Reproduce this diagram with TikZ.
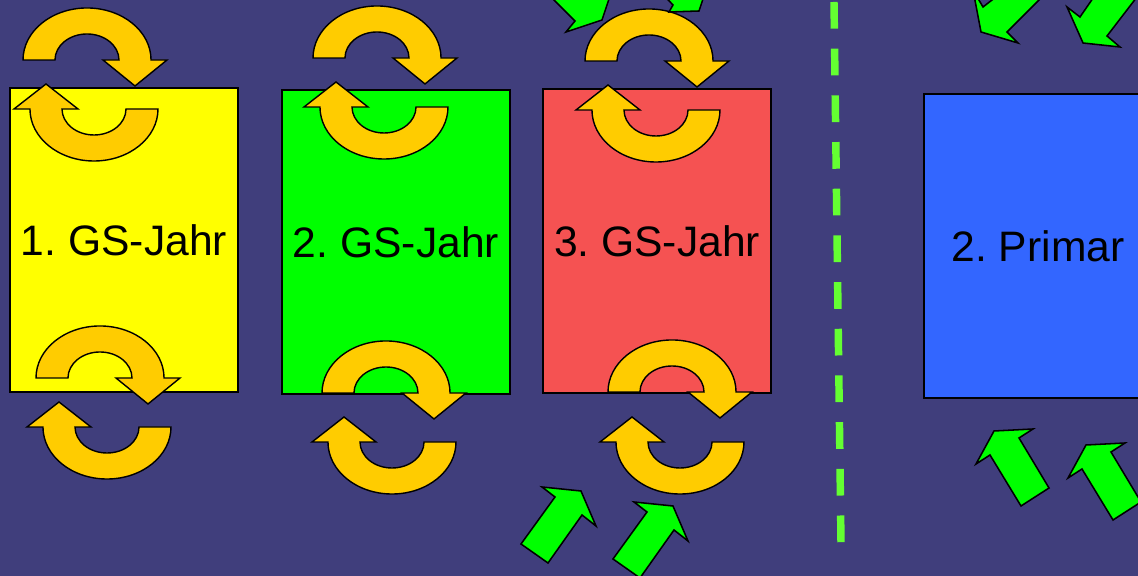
\documentclass[tikz,border=0pt]{standalone}
\usepackage{fontspec}
\setmainfont{Liberation Sans}
\definecolor{bgc}{RGB}{64,62,124}
\definecolor{ringc}{RGB}{255,204,0}
\definecolor{limec}{RGB}{0,255,0}
\definecolor{dashc}{RGB}{100,255,50}
\definecolor{boxy}{RGB}{255,255,0}
\definecolor{boxg}{RGB}{0,255,0}
\definecolor{boxr}{RGB}{245,82,82}
\definecolor{boxb}{RGB}{51,102,255}
\tikzset{
  yearbox/.style={draw=black, line width=1.1pt, rectangle, minimum width=5.7cm, minimum height=7.6cm, inner sep=0pt, font=\fontsize{30.3}{36}\selectfont\frenchspacing, text=black},
  ringarrow/.style={fill=ringc, draw=black, line width=1pt, line join=miter},
  blockarrow/.style={fill=limec, draw=black, line width=1.1pt, line join=miter},
  arch/.pic={
    \path[ringarrow] (-64,0) arc[start angle=180,end angle=0,x radius=1.6cm,y radius=1.3cm]
      -- (80,0) -- (48,-26) -- (16,0) -- (32,0)
      arc[start angle=0,end angle=180,x radius=0.8cm,y radius=0.65cm] -- cycle;
  },
  cup/.pic={
    \path[ringarrow] (64,0) arc[start angle=0,end angle=-180,x radius=1.6cm,y radius=1.3cm]
      -- (-80,0) -- (-48,25) -- (-16,0) -- (-32,0)
      arc[start angle=180,end angle=360,x radius=0.8cm,y radius=0.65cm] -- cycle;
  }
}
\begin{document}
\begin{tikzpicture}[x=0.025cm,y=0.025cm]
\useasboundingbox (0,0) rectangle (1138,576);
\clip (0,0) rectangle (1138,576);
\fill[bgc] (0,0) rectangle (1138,576);

% boxes
\node[yearbox, fill=boxy] (y1) at (124,336) {1. GS-Jahr};
\node[yearbox, fill=boxg] (y2) at (396,334) {2. GS-Jahr};
\node[yearbox, fill=boxr] (y3) at (657,335) {3. GS-Jahr};
\node[yearbox, fill=boxb] (p2) at (1038,330) {2. Primar};

% dashed separator
\coordinate (dtop) at (834,574);
\coordinate (dbot) at (841,33);
\draw[dashc, line width=5.3pt, dash pattern=on 19pt off 14.2pt] (dtop) -- (dbot);

% circular arrows
\pic at (87,516) {arch};
\pic at (94,467) {cup};
\pic at (100,198) {arch};
\pic at (107,149) {cup};

\pic at (377,518) {arch};
\pic at (384,469) {cup};
\pic at (386,183) {arch};
\pic at (392,134) {cup};

\pic at (649,515) {arch};
\pic at (656,466) {cup};
\pic at (672,184) {arch};
\pic at (680,134) {cup};

% green block arrows
\path[blockarrow] (521,32) -- (555,79) -- (542,89) -- (581,85) -- (596,50) -- (582,61) -- (548,13) -- cycle;
\path[blockarrow] (613,17) -- (647,64) -- (634,74) -- (673,70) -- (688,35) -- (674,46) -- (640,-2) -- cycle;
\path[blockarrow] (994,145) -- (1033,147) -- (1019,138) -- (1049,88) -- (1021,70) -- (990,121) -- (976,112) -- cycle;
\path[blockarrow] (1086,131) -- (1125,133) -- (1111,124) -- (1141,74) -- (1113,56) -- (1082,107) -- (1068,98) -- cycle;
\path[blockarrow] (981,544) -- (1018,533) -- (1007,544) -- (1060,597) -- (1010,590) -- (983,569) -- (973,586) -- cycle;
\path[blockarrow] (1083,533) -- (1120,529) -- (1107,540) -- (1150,596) -- (1100,588) -- (1080,559) -- (1067,569) -- cycle;
\path[blockarrow] (602,556) -- (614,592) -- (604,582) -- (564,622) -- (535,595) -- (575,555) -- (566,544) -- cycle;
\path[blockarrow] (699,565) -- (710,598) -- (700,591) -- (670,631) -- (640,606) -- (673,571) -- (669,564) -- cycle;
\end{tikzpicture}
\end{document}
